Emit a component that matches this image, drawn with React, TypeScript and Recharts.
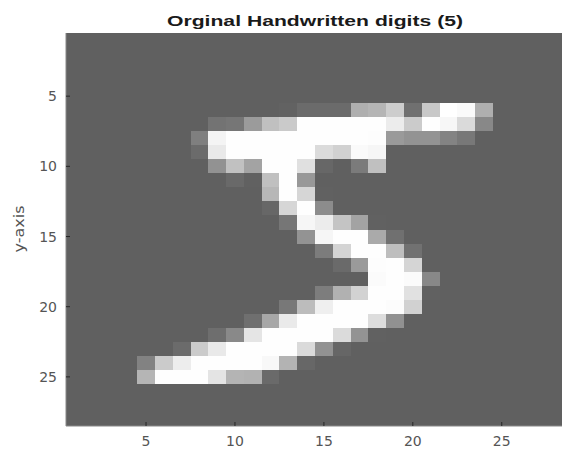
import React from "react";
import { ComposedChart, XAxis, YAxis, Scatter, ReferenceArea } from "recharts";

// 28x28 pixel intensities (0-255) of the digit, row by row (top to bottom)
const digitRows: number[][] = [
  [0,0,0,0,0,0,0,0,0,0,0,0,0,0,0,0,0,0,0,0,0,0,0,0,0,0,0,0],
  [0,0,0,0,0,0,0,0,0,0,0,0,0,0,0,0,0,0,0,0,0,0,0,0,0,0,0,0],
  [0,0,0,0,0,0,0,0,0,0,0,0,0,0,0,0,0,0,0,0,0,0,0,0,0,0,0,0],
  [0,0,0,0,0,0,0,0,0,0,0,0,0,0,0,0,0,0,0,0,0,0,0,0,0,0,0,0],
  [0,0,0,0,0,0,0,0,0,0,0,0,0,0,0,0,0,0,0,0,0,0,0,0,0,0,0,0],
  [0,0,0,0,0,0,0,0,0,0,0,0,3,18,18,18,126,136,175,26,166,255,247,127,0,0,0,0],
  [0,0,0,0,0,0,0,0,30,36,94,154,170,253,253,253,253,253,225,172,253,242,195,64,0,0,0,0],
  [0,0,0,0,0,0,0,49,238,253,253,253,253,253,253,253,253,251,93,82,82,56,39,0,0,0,0,0],
  [0,0,0,0,0,0,0,18,219,253,253,253,253,253,198,182,247,241,0,0,0,0,0,0,0,0,0,0],
  [0,0,0,0,0,0,0,0,80,156,107,253,253,205,11,0,43,154,0,0,0,0,0,0,0,0,0,0],
  [0,0,0,0,0,0,0,0,0,14,1,154,253,90,0,0,0,0,0,0,0,0,0,0,0,0,0,0],
  [0,0,0,0,0,0,0,0,0,0,0,139,253,190,2,0,0,0,0,0,0,0,0,0,0,0,0,0],
  [0,0,0,0,0,0,0,0,0,0,0,11,190,253,70,0,0,0,0,0,0,0,0,0,0,0,0,0],
  [0,0,0,0,0,0,0,0,0,0,0,0,35,241,225,160,108,1,0,0,0,0,0,0,0,0,0,0],
  [0,0,0,0,0,0,0,0,0,0,0,0,0,81,240,253,253,119,25,0,0,0,0,0,0,0,0,0],
  [0,0,0,0,0,0,0,0,0,0,0,0,0,0,45,186,253,253,150,27,0,0,0,0,0,0,0,0],
  [0,0,0,0,0,0,0,0,0,0,0,0,0,0,0,16,93,252,253,187,0,0,0,0,0,0,0,0],
  [0,0,0,0,0,0,0,0,0,0,0,0,0,0,0,0,0,249,253,249,64,0,0,0,0,0,0,0],
  [0,0,0,0,0,0,0,0,0,0,0,0,0,0,46,130,183,253,253,207,2,0,0,0,0,0,0,0],
  [0,0,0,0,0,0,0,0,0,0,0,0,39,148,229,253,253,253,250,182,0,0,0,0,0,0,0,0],
  [0,0,0,0,0,0,0,0,0,0,24,114,221,253,253,253,253,201,78,0,0,0,0,0,0,0,0,0],
  [0,0,0,0,0,0,0,0,23,66,213,253,253,253,253,198,81,2,0,0,0,0,0,0,0,0,0,0],
  [0,0,0,0,0,0,18,171,219,253,253,253,253,195,80,9,0,0,0,0,0,0,0,0,0,0,0,0],
  [0,0,0,0,55,172,226,253,253,253,253,244,133,11,0,0,0,0,0,0,0,0,0,0,0,0,0,0],
  [0,0,0,0,136,253,253,253,212,135,132,16,0,0,0,0,0,0,0,0,0,0,0,0,0,0,0,0],
  [0,0,0,0,0,0,0,0,0,0,0,0,0,0,0,0,0,0,0,0,0,0,0,0,0,0,0,0],
  [0,0,0,0,0,0,0,0,0,0,0,0,0,0,0,0,0,0,0,0,0,0,0,0,0,0,0,0],
  [0,0,0,0,0,0,0,0,0,0,0,0,0,0,0,0,0,0,0,0,0,0,0,0,0,0,0,0],
];

const xTicks = [5, 10, 15, 20, 25];
const yTicks = [5, 10, 15, 20, 25];
const titleText = "Orginal Handwritten digits (5)";
const yLabelText = "y-axis";

const FONT = "'DejaVu Sans', 'Liberation Sans', sans-serif";
const TITLE_FONT = "'Liberation Sans', Arial, sans-serif";
const BG_LEVEL = 96;

// gray colormap: 0 -> dark gray background, 255 -> white
const toGray = (v: number) => {
  const g = Math.round(BG_LEVEL + (v / 255) * (255 - BG_LEVEL));
  return `rgb(${g},${g},${g})`;
};

const cells = digitRows.flatMap((row, r) =>
  row.map((v, c) => ({ x: c + 1, y: r + 1, v }))
);

// plain rect without anti-aliased seams between neighbouring pixels
const PixelShape = ({ x, y, width, height, fill }: any) => (
  <rect x={x} y={y} width={width} height={height} fill={fill} shapeRendering="crispEdges" />
);

const BottomTick = ({ x, y, payload }: any) => (
  <g>
    <line x1={x} x2={x} y1={y} y2={y - 4} stroke="#262626" />
    <text x={x} y={y + 20} textAnchor="middle" fill="#555" fontSize={14} fontFamily={FONT}>
      {payload.value}
    </text>
  </g>
);

const TopTick = ({ x, y }: any) => (
  <line x1={x} x2={x} y1={y} y2={y + 4} stroke="#262626" />
);

const LeftTick = ({ x, y, payload }: any) => (
  <g>
    <line x1={x} x2={x + 4} y1={y} y2={y} stroke="#262626" />
    <text x={x - 9} y={y + 5} textAnchor="end" fill="#555" fontSize={14} fontFamily={FONT}>
      {payload.value}
    </text>
  </g>
);

export default function App() {
  return (
    <div style={{ position: "fixed", left: 0, top: 0, width: 562, height: 454, overflow: "hidden", background: "#fff" }}>
      <ComposedChart
        width={570}
        height={454}
        data={cells}
        margin={{ top: 33, right: 6, bottom: 0, left: 0 }}
      >
        <XAxis
          type="number"
          dataKey="x"
          domain={[0.5, 28.5]}
          allowDataOverflow
          ticks={xTicks}
          tickSize={0}
          tickMargin={0}
          tickLine={false}
          height={28}
          axisLine={{ stroke: "#888" }}
          tick={<BottomTick />}
        />
        <XAxis
          xAxisId="top"
          orientation="top"
          type="number"
          dataKey="x"
          domain={[0.5, 28.5]}
          allowDataOverflow
          ticks={xTicks}
          tickSize={0}
          tickMargin={0}
          tickLine={false}
          height={0}
          axisLine={{ stroke: "#888" }}
          tick={<TopTick />}
        />
        <YAxis
          type="number"
          dataKey="y"
          domain={[0.5, 28.5]}
          allowDataOverflow
          reversed
          ticks={yTicks}
          tickSize={0}
          tickMargin={0}
          tickLine={false}
          width={66}
          axisLine={{ stroke: "#888" }}
          tick={<LeftTick />}
        />
        <ReferenceArea
          x1={0.5}
          x2={28.5}
          y1={0.5}
          y2={28.5}
          fill={toGray(0)}
          fillOpacity={1}
          stroke="none"
          shape={<PixelShape />}
        />
        {cells
          .filter((d) => d.v > 0)
          .map((d) => (
            <ReferenceArea
              key={`${d.x}-${d.y}`}
              x1={d.x - 0.5}
              x2={d.x + 0.5}
              y1={d.y - 0.5}
              y2={d.y + 0.5}
              fill={toGray(d.v)}
              fillOpacity={1}
              stroke="none"
              shape={<PixelShape />}
            />
          ))}
        <Scatter dataKey="y" isAnimationActive={false} shape={() => <g />} />
      </ComposedChart>
      <svg width={562} height={454} style={{ position: "absolute", left: 0, top: 0, pointerEvents: "none" }}>
        <text
          x={315}
          y={26}
          textAnchor="middle"
          fontFamily={TITLE_FONT}
          fontWeight="bold"
          fontSize={15}
          fill="#1a1a1a"
          textLength={296}
          lengthAdjust="spacingAndGlyphs"
        >
          {titleText}
        </text>
        <text
          transform="translate(24,229) rotate(-90)"
          textAnchor="middle"
          fontFamily={FONT}
          fontSize={14}
          fill="#555"
          textLength={47}
          lengthAdjust="spacingAndGlyphs"
        >
          {yLabelText}
        </text>
      </svg>
    </div>
  );
}
